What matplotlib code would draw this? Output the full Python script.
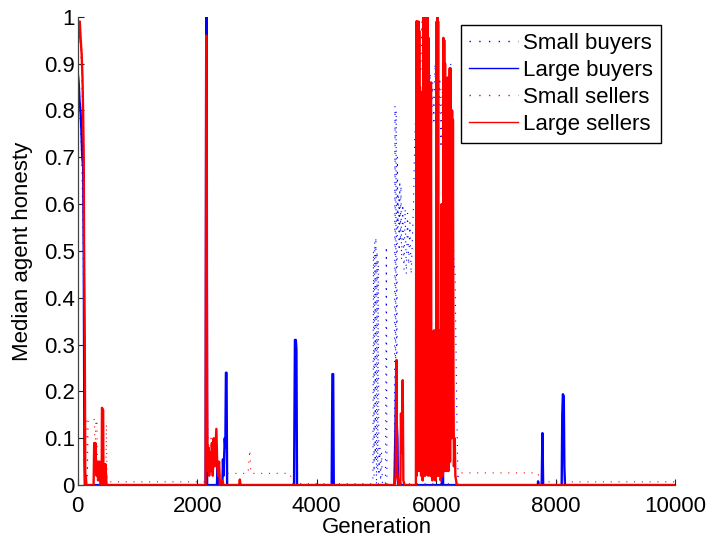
import matplotlib.pyplot as plt

# Median honesty per agent group over the generations (sampled at the turning points)
small_buyers_gen = [0, 20, 40, 60, 80, 90, 100, 110, 120, 130,
                    4940, 4950, 4960, 4970, 4980, 4990, 5000, 5010, 5020, 5030, 5040,
                    5060, 5070, 5085, 5100, 5150, 5165, 5175, 5300,
                    5310, 5320, 5330, 5340, 5350, 5360, 5370, 5380, 5390, 5400, 5410, 5420,
                    5440, 5460, 5480, 5500, 5520, 5540, 5560, 5580, 5600, 5620, 5640,
                    5660, 5680, 5700, 5720, 5740, 5760, 5780, 5800, 5820, 5840, 5860,
                    5880, 5900, 5920, 5940, 5960, 5980, 6000, 6020, 6040, 6060, 6080,
                    6100, 6120, 6140, 6160, 6180, 6200, 6220, 6243, 6260, 6280, 6300,
                    6315, 6330, 6345, 6360, 6375, 10000]
small_buyers_val = [0.8, 0.85, 0.78, 0.72, 0.6, 0.5, 0.35, 0.15, 0.02, 0,
                    0, 0.5, 0.02, 0.52, 0.05, 0.53, 0.0, 0.5, 0.03, 0.48, 0.02,
                    0.08, 0.0, 0.07, 0, 0, 0.51, 0, 0,
                    0.81, 0.1, 0.8, 0.05, 0.7, 0.55, 0.62, 0.5, 0.65, 0.52, 0.64, 0.48,
                    0.6, 0.46, 0.59, 0.45, 0.58, 0.47, 0.56, 0.45, 0.52, 0.6, 0.74,
                    0.8, 0.95, 0.85, 0.97, 0.88, 0.99, 0.9, 0.98, 0.86, 0.99, 0.9,
                    0.8, 0.88, 0.75, 0.86, 0.77, 0.9, 0.78, 0.88, 0.76, 0.87, 0.72,
                    0.85, 0.74, 0.83, 0.7, 0.85, 0.72, 0.88, 0.9, 0.75, 0.55, 0.47,
                    0.46, 0.3, 0.15, 0.04, 0, 0]

large_buyers_gen = [0, 15, 30, 45, 60, 75, 90, 100, 105, 112, 118,
                    2140, 2150, 2158, 2165, 2330, 2340, 2350, 2420, 2430, 2440,
                    2460, 2470, 2480, 2490, 2500, 3620, 3635, 3650, 3660, 3670,
                    4250, 4262, 4275, 4285, 5300, 5320, 5330, 5340, 5350, 5360,
                    6095, 6105, 6115, 7700, 7705, 7715, 7765, 7778, 7790,
                    8100, 8110, 8120, 8135, 8145, 8155, 10000]
large_buyers_val = [0.88, 0.86, 0.82, 0.8, 0.76, 0.7, 0.68, 0.5, 0.3, 0.05, 0,
                    0, 1.0, 1.0, 0, 0, 0.05, 0, 0, 0.055, 0.02,
                    0.1, 0.08, 0.24, 0.24, 0, 0, 0.31, 0.31, 0.29, 0,
                    0, 0.237, 0.237, 0, 0, 0.14, 0.25, 0.13, 0.1, 0,
                    0, 0.6, 0, 0, 0.008, 0, 0, 0.111, 0,
                    0, 0.15, 0.194, 0.19, 0.04, 0, 0]

small_sellers_gen = [0, 30, 60, 90, 110, 120, 150, 160, 175, 250, 280, 290, 300,
                     320, 330, 470, 480, 490, 520, 2140, 2155, 2165, 2180, 2200,
                     2230, 2260, 2290, 2320, 2350, 2380, 2450, 2850, 2880, 2895,
                     3550, 3600, 6340, 6360, 7700, 7750, 10000]
small_sellers_val = [0.98, 0.97, 0.9, 0.75, 0.4, 0.14, 0.14, 0.02, 0.14, 0.14, 0.14, 0.02, 0.13,
                     0.14, 0.03, 0.03, 0.13, 0.01, 0.007, 0.007, 0.9, 0.2, 0.1, 0.06,
                     0.1, 0.05, 0.1, 0.08, 0.05, 0.02, 0.025, 0.025, 0.075, 0.025,
                     0.025, 0.003, 0.003, 0.026, 0.026, 0.007, 0.007]

large_sellers_gen = [0, 15, 33, 50, 65, 79, 89, 100, 105, 117, 122, 126,
                     135, 145, 265, 275, 285, 295, 305, 315, 330, 340, 350, 360, 368, 378,
                     400, 405, 425, 430, 455, 462, 475, 482,
                     2140, 2150, 2160, 2165, 2170, 2180, 2190, 2200, 2215, 2230, 2245,
                     2260, 2275, 2290, 2305, 2320, 2335, 2350, 2365, 2380, 2420, 2440,
                     2700, 2713, 2725,
                     5300, 5320, 5335, 5345, 5370, 5400, 5410, 5420, 5439, 5450, 5470,
                     5660, 5668, 5674, 5680, 5686, 5692, 5698, 5704, 5710, 5716, 5722,
                     5728, 5734, 5740, 5746, 5760, 5772, 5786, 5792, 5798, 5804, 5810,
                     5816, 5822, 5828, 5834, 5840, 5846, 5852, 5858, 5864, 5872, 5880,
                     5890, 5900, 5912, 5920, 5935, 5950, 5960, 5968, 5976, 5984, 6000,
                     6008, 6014, 6020, 6026, 6032, 6038, 6050, 6058, 6066, 6074, 6082,
                     6090, 6098, 6112, 6120, 6126, 6134, 6140, 6148, 6156, 6164, 6172,
                     6186, 6192, 6200, 6206, 6214, 6220, 6226, 6232, 6240, 6246, 6252,
                     6258, 6266, 6272, 6280, 6288, 6296, 6310, 6320, 6345, 10000]
large_sellers_val = [0.94, 0.97, 0.99, 0.95, 0.92, 0.87, 0.8, 0.7, 0.52, 0.31, 0.1, 0,
                     0.02, 0, 0, 0.09, 0.04, 0.09, 0.05, 0.02, 0.05, 0.01, 0.05, 0.03, 0.05, 0,
                     0, 0.165, 0.16, 0, 0, 0.045, 0.02, 0,
                     0, 0.96, 0.42, 0.2, 0.08, 0.03, 0.08, 0.02, 0.07, 0.03, 0.09,
                     0.02, 0.1, 0.04, 0.08, 0.12, 0.04, 0.02, 0.05, 0, 0.01, 0,
                     0, 0.012, 0,
                     0, 0.02, 0.267, 0.03, 0, 0, 0.153, 0.07, 0.224, 0.01, 0,
                     0, 0.99, 0.02, 0.99, 0.05, 0.98, 0.1, 0.99, 0.03, 0.97, 0.2,
                     0.85, 0.05, 0.84, 0.02, 0.075, 0.01, 1.0, 0.02, 1.0, 0.05, 1.0,
                     0.02, 1.0, 0.1, 1.0, 0.03, 1.0, 0.05, 1.0, 0.02, 0.955, 0.05,
                     0.096, 0.02, 0.86, 0.03, 0.01, 0.02, 0.33, 0.02, 0.33, 0.01, 0.03,
                     0.99, 0.02, 1.0, 0.05, 0.99, 0.02, 0.33, 0.02, 0.3, 0.01, 0.02,
                     0.6, 0.03, 0.02, 0.955, 0.05, 0.95, 0.03, 0.9, 0.05, 0.69, 0.03,
                     0.87, 0.05, 0.87, 0.03, 0.87, 0.1, 0.89, 0.05, 0.89, 0.2, 0.8,
                     0.1, 0.8, 0.25, 0.78, 0.25, 0.04, 0.1, 0.02, 0, 0]

x_ticks = [0, 2000, 4000, 6000, 8000, 10000]
y_ticks = [0, 0.1, 0.2, 0.3, 0.4, 0.5, 0.6, 0.7, 0.8, 0.9, 1]
y_tick_labels = ['0', '0.1', '0.2', '0.3', '0.4', '0.5', '0.6', '0.7', '0.8', '0.9', '1']

plt.rcParams['font.family'] = ['Liberation Sans', 'DejaVu Sans']

fig = plt.figure(figsize=(7.07, 5.42), dpi=100)
ax = fig.add_axes([0.110, 0.105, 0.845, 0.864])

ax.plot(small_buyers_gen, small_buyers_val, color='#0000ff', lw=0.8,
        linestyle=(0, (1, 6)), label='Small buyers')
ax.plot(large_buyers_gen, large_buyers_val, color='#0000ff', lw=1.7,
        label='Large buyers')
ax.plot(small_sellers_gen, small_sellers_val, color='#ff0000', lw=0.8,
        linestyle=(0, (1, 6)), label='Small sellers')
ax.plot(large_sellers_gen, large_sellers_val, color='#ff0000', lw=1.7,
        label='Large sellers')

ax.set_xlim(0, 10000)
ax.set_ylim(0, 1)
ax.set_xticks(x_ticks)
ax.set_xticklabels([str(t) for t in x_ticks])
ax.set_yticks(y_ticks)
ax.set_yticklabels(y_tick_labels)
ax.tick_params(direction='in', length=4, width=0.8, labelsize=16, colors='#222222',
               labelcolor='black', pad=2)
ax.tick_params(axis='x', pad=8)
ax.spines['top'].set_visible(False)
ax.spines['right'].set_visible(False)
for side in ('left', 'bottom'):
    ax.spines[side].set_color('#444444')
    ax.spines[side].set_linewidth(0.9)

ax.set_xlabel('Generation', fontsize=16, labelpad=0)
ax.set_ylabel('Median agent honesty', fontsize=16, labelpad=8)

leg = ax.legend(loc='upper right', bbox_to_anchor=(0.976, 0.983), fontsize=16,
                fancybox=False, framealpha=1, edgecolor='black',
                handlelength=2.2, labelspacing=0.28, borderpad=0.35,
                handletextpad=0.25, borderaxespad=0)
leg.get_frame().set_linewidth(1.0)
for line in leg.get_lines():
    line.set_linewidth(1.0)

fig.savefig('out.png', dpi=100)
